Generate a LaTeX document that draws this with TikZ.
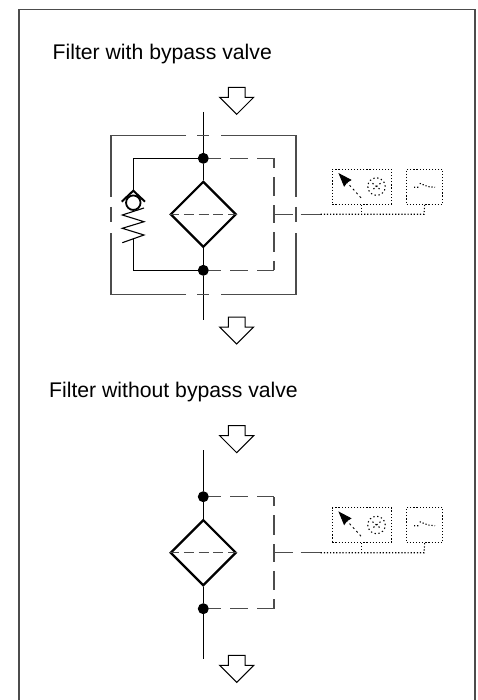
\documentclass[tikz,border=0pt]{standalone}
\usepackage{fontspec}
\setmainfont{Liberation Sans}
\usetikzlibrary{shapes.geometric,arrows.meta}
\definecolor{linegray}{gray}{0.3}
\tikzset{
  flowarrow/.pic={\draw[line width=1pt, line join=miter] (0,0) -- (-17,-17) -- (-8.4,-17) -- (-8.4,-27) -- (8.4,-27) -- (8.4,-17) -- (17,-17) -- cycle;},
  junction/.style={shape=circle, fill=black, inner sep=0pt, minimum size=11pt},
  filterbox/.style={shape=diamond, draw, line width=2.2pt, inner sep=0pt, minimum width=66pt, minimum height=66pt},
  pipe/.style={line width=1.3pt},
  pilot/.style={line width=1.3pt, color=linegray},
  housing/.style={line width=1.3pt, color=linegray},
  dotbox/.style={shape=rectangle, draw, line width=1.1pt, dash pattern=on 1.2pt off 1.9pt, inner sep=0pt},
  dotline/.style={line width=1.1pt, dash pattern=on 1.2pt off 1.9pt},
  title/.style={anchor=base west, inner sep=0pt, font=\fontsize{21.2}{24}\selectfont}
}
\begin{document}
\begin{tikzpicture}[x=1pt, y=-1pt]
\useasboundingbox (0,0) rectangle (478,700);
% frame, open at the bottom
\draw[line width=1.4pt, color=linegray] (19,700) -- (19,9.5) -- (475,9.5) -- (475,700);
\node[title] (titleA) at (52.5,60) {Filter with bypass valve};
\node[title] (titleB) at (49,397) {Filter without bypass valve};

% the filter and its gauges, twice
\foreach \n/\c in {A/214.3, B/552.7}{
\begin{scope}[shift={(0,\c)}]
\pic at (236.7,-100) {flowarrow};
\pic at (236.7,129.7) {flowarrow};
\node[filterbox] (filter\n) at (203.3,0) {};
\node[junction] (dotT\n) at (203.3,-56) {};
\node[junction] (dotB\n) at (203.3,56) {};
\coordinate (lineT\n) at (203.3,-102.3);
\coordinate (lineB\n) at (203.3,106);
\coordinate (cornerT\n) at (274,-56);
\coordinate (cornerB\n) at (274,56);
\coordinate (stub\n) at (274,0);
\coordinate (stubEnd\n) at (320.7,0);
\draw[pipe] (lineT\n) -- (dotT\n) -- (filter\n.north);
\draw[pipe] (filter\n.south) -- (dotB\n) -- (lineB\n);
\draw[pilot, dash pattern=on 10pt off 4.7pt] (filter\n.west) -- (filter\n.east);
\draw[pilot, dash pattern=on 11.5pt off 9.5pt on 17.5pt off 9.5pt on 20pt] (dotT\n) -- (cornerT\n);
\draw[pilot, dash pattern=on 11.5pt off 9.5pt on 17.5pt off 9.5pt on 20pt] (dotB\n) -- (cornerB\n);
\draw[pilot, dash pattern=on 9.2pt off 8.9pt on 19.5pt off 8.9pt on 12pt] (stub\n) -- (cornerT\n);
\draw[pilot, dash pattern=on 9.2pt off 8.9pt on 19.5pt off 8.9pt on 12pt] (stub\n) -- (cornerB\n);
\draw[pilot, dash pattern=on 18.7pt off 8pt on 22pt] (stub\n) -- (stubEnd\n);
\node[dotbox, minimum width=59pt, minimum height=35pt] (gauge\n) at (361.8,-27.7) {};
\node[dotbox, minimum width=36pt, minimum height=35pt] (switch\n) at (424.7,-27.7) {};
\node[dotbox, shape=circle, minimum size=17.5pt, dash pattern=on 1.3pt off 2.6pt] (dial\n) at (376.5,-27.7) {};
\coordinate (needle\n) at (361,-16.5);
\coordinate (needleTip\n) at (338.4,-41.3);
\draw[dotline, line width=0.9pt, dash pattern=on 2pt off 3pt, -{Stealth[length=14pt,width=10pt,inset=1pt]}] (needle\n) -- (needleTip\n);
\draw[dotline, dash pattern=on 1.3pt off 2.6pt] (372.5,-31) -- (380.5,-24.5) (380.5,-31) -- (372.5,-24.5);
\coordinate (contactL\n) at (414,-27);
\coordinate (contactM\n) at (420,-27);
\coordinate (contactN\n) at (428,-27.7);
\coordinate (contactR\n) at (435,-27);
\draw[dotline] (contactL\n) -- (contactM\n) (419.7,-31) -- (contactN\n) -- (contactR\n);
\coordinate (tapA\n) at (361.8,0);
\coordinate (tapB\n) at (424,0);
\draw[dotline] (stubEnd\n) -- (tapB\n) -- (switch\n.south);
\draw[dotline] (gauge\n.south) -- (tapA\n);
\end{scope}
}

% the bypass with check valve and spring
\coordinate (bypassT) at (133.3,158.3);
\coordinate (bypassB) at (133.3,270.3);
\node[shape=circle, draw, line width=1.8pt, inner sep=0pt, minimum size=14.5pt] (ball) at (133.3,202.7) {};
\coordinate (seat) at (133.3,190.7);
\draw[line width=2pt] (121.7,201.7) -- (seat) -- (145,201.7);
\draw[pipe] (dotTA) -- (bypassT) -- (seat);
\draw[pipe] (dotBA) -- (bypassB) -- (133.3,239);
\draw[line width=1.1pt] (144,208) -- (122.3,215) -- (144,221.7) -- (122.3,228.3) -- (144,235) -- (122.3,242.7);

% the housing round it all
\draw[housing] (186,135.3) -- (111,135.3) -- (111,197) (197.3,135.3) -- (209.3,135.3) (221,135.3) -- (296,135.3) -- (296,197);
\draw[housing] (186,294.7) -- (111,294.7) -- (111,232.7) (197.3,294.7) -- (209.3,294.7) (221,294.7) -- (296,294.7) -- (296,232.7);
\draw[housing] (111,207) -- (111,221.7) (296,207) -- (296,221.7);
\end{tikzpicture}
\end{document}
